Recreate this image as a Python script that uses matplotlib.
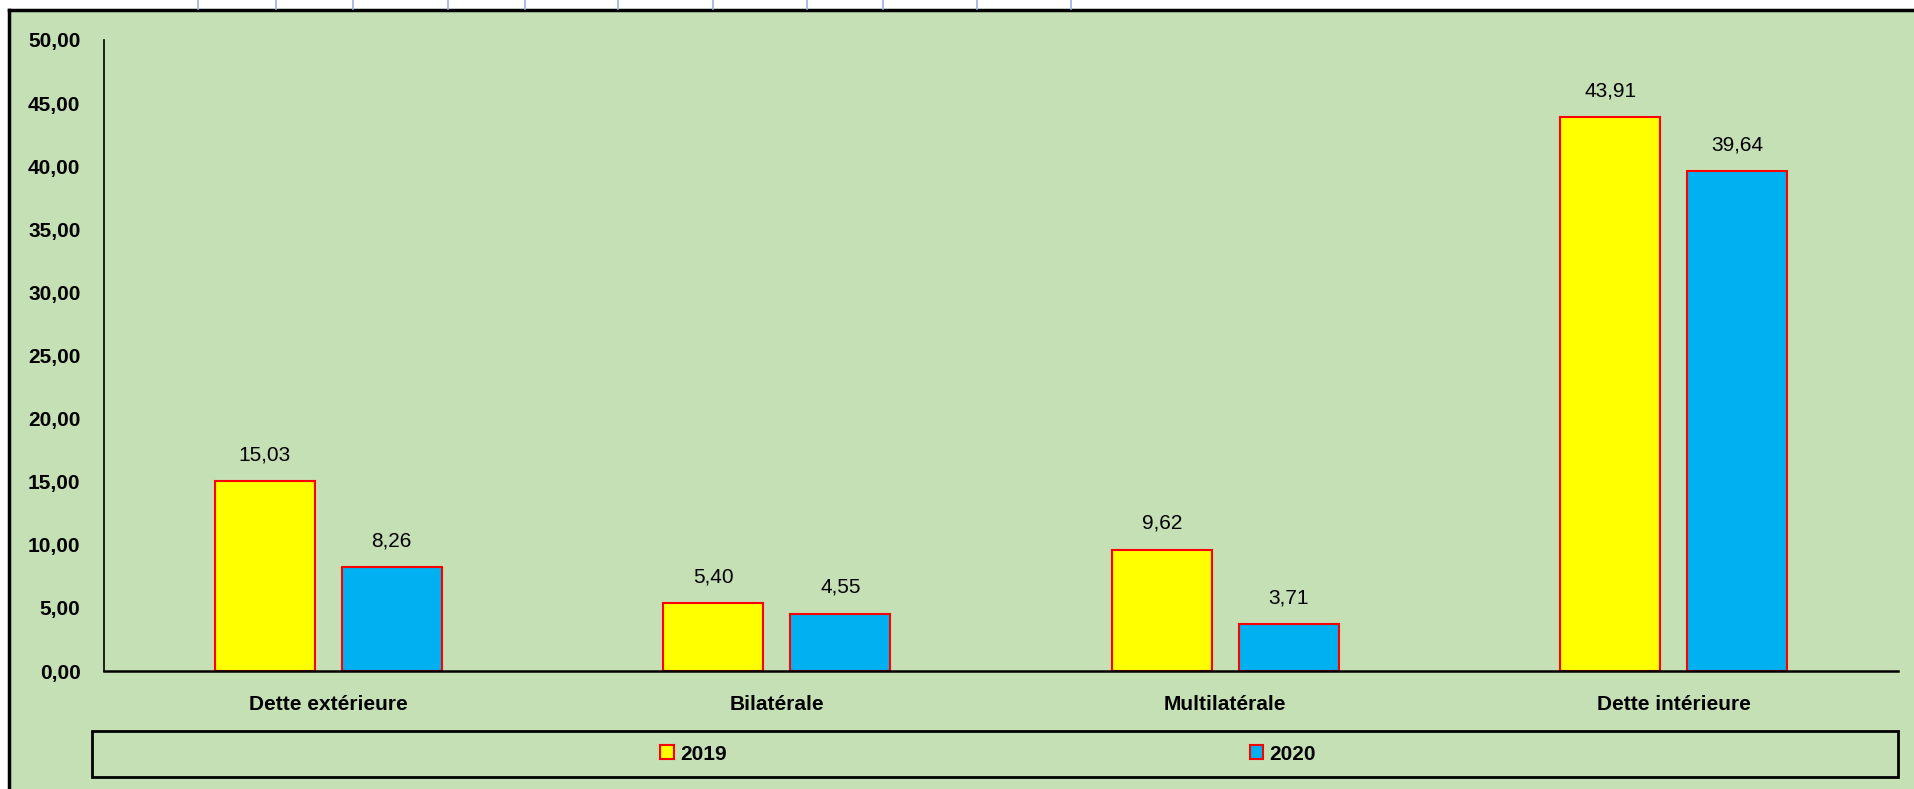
import matplotlib
matplotlib.use("Agg")
import matplotlib.pyplot as plt
import numpy as np
from matplotlib.lines import Line2D
from matplotlib.patches import Rectangle

categories = ["Dette extérieure", "Bilatérale", "Multilatérale", "Dette intérieure"]
years = ["2019", "2020"]
values_2019 = [15.03, 5.40, 9.62, 43.91]
values_2020 = [8.26, 4.55, 3.71, 39.64]
y_ticks = [0, 5, 10, 15, 20, 25, 30, 35, 40, 45, 50]

# sheet grid lines visible above the chart (pixel x positions)
cell_lines_px = [198, 276, 353, 448, 525, 618, 713, 807, 883, 977, 1071]

W, H = 1914, 789
bg = "#C5E0B4"
fill = ["#FFFF00", "#00B0F0"]


def fmt(v):
    return f"{v:.2f}".replace(".", ",")


def main():
    plt.rcParams["font.family"] = ["Liberation Sans", "DejaVu Sans"]
    fig = plt.figure(figsize=(W / 100, H / 100), dpi=100, facecolor="white")

    # chart area
    fig.patches.append(Rectangle((9 / W, 0), 1, 1 - 10 / H, transform=fig.transFigure,
                                 facecolor=bg, edgecolor="none", zorder=-10))
    fig.add_artist(Line2D([9 / W, 9 / W], [0, 1 - 10 / H], transform=fig.transFigure,
                          color="black", lw=2.5))
    fig.add_artist(Line2D([9 / W, 1], [1 - 10 / H, 1 - 10 / H], transform=fig.transFigure,
                          color="black", lw=2.5))
    for xp in cell_lines_px:
        fig.add_artist(Line2D([xp / W, xp / W], [1 - 9 / H, 1], transform=fig.transFigure,
                              color="#9DB1E1", lw=1.2))

    ax = fig.add_axes([104 / W, 1 - 671 / H, (1898 - 104) / W, 631 / H])
    ax.set_facecolor("none")
    ax.set_zorder(5)

    x = np.arange(len(categories))
    w = 0.223
    off = 0.1416
    b1 = ax.bar(x - off, values_2019, w, color=fill[0], edgecolor="#FF0000", lw=1.5,
                label=years[0])
    b2 = ax.bar(x + off, values_2020, w, color=fill[1], edgecolor="#FF0000", lw=1.5,
                label=years[1])
    ax.bar_label(b1, labels=[fmt(v) for v in values_2019], padding=12, fontsize=15)
    ax.bar_label(b2, labels=[fmt(v) for v in values_2020], padding=12, fontsize=15)

    ax.set_xlim(-0.5, len(categories) - 0.5)
    ax.set_ylim(0, 50)
    ax.set_yticks(y_ticks)
    ax.set_yticklabels([fmt(v) for v in y_ticks], fontsize=15, fontweight="bold")
    ax.set_xticks(x)
    ax.set_xticklabels(categories, fontsize=15, fontweight="bold")
    ax.tick_params(axis="both", length=0)
    ax.tick_params(axis="y", pad=17)
    ax.tick_params(axis="x", pad=17)
    for s in ["top", "right"]:
        ax.spines[s].set_visible(False)
    ax.spines["left"].set_linewidth(1.2)
    ax.spines["bottom"].set_linewidth(1.8)

    # legend box
    fig.patches.append(Rectangle((92 / W, 1 - 777 / H), (1898 - 92) / W, 46 / H,
                                 transform=fig.transFigure, facecolor="none",
                                 edgecolor="black", lw=2))
    fig.legend(handles=[b1, b2], loc="center", ncol=2,
               bbox_to_anchor=(988 / W, 1 - 754 / H), frameon=False,
               prop={"size": 15, "weight": "bold"}, handlelength=0.65,
               handleheight=0.65, handletextpad=0.3, columnspacing=25.1)

    fig.savefig("out.png", dpi=100, facecolor="white")


if __name__ == "__main__":
    main()
